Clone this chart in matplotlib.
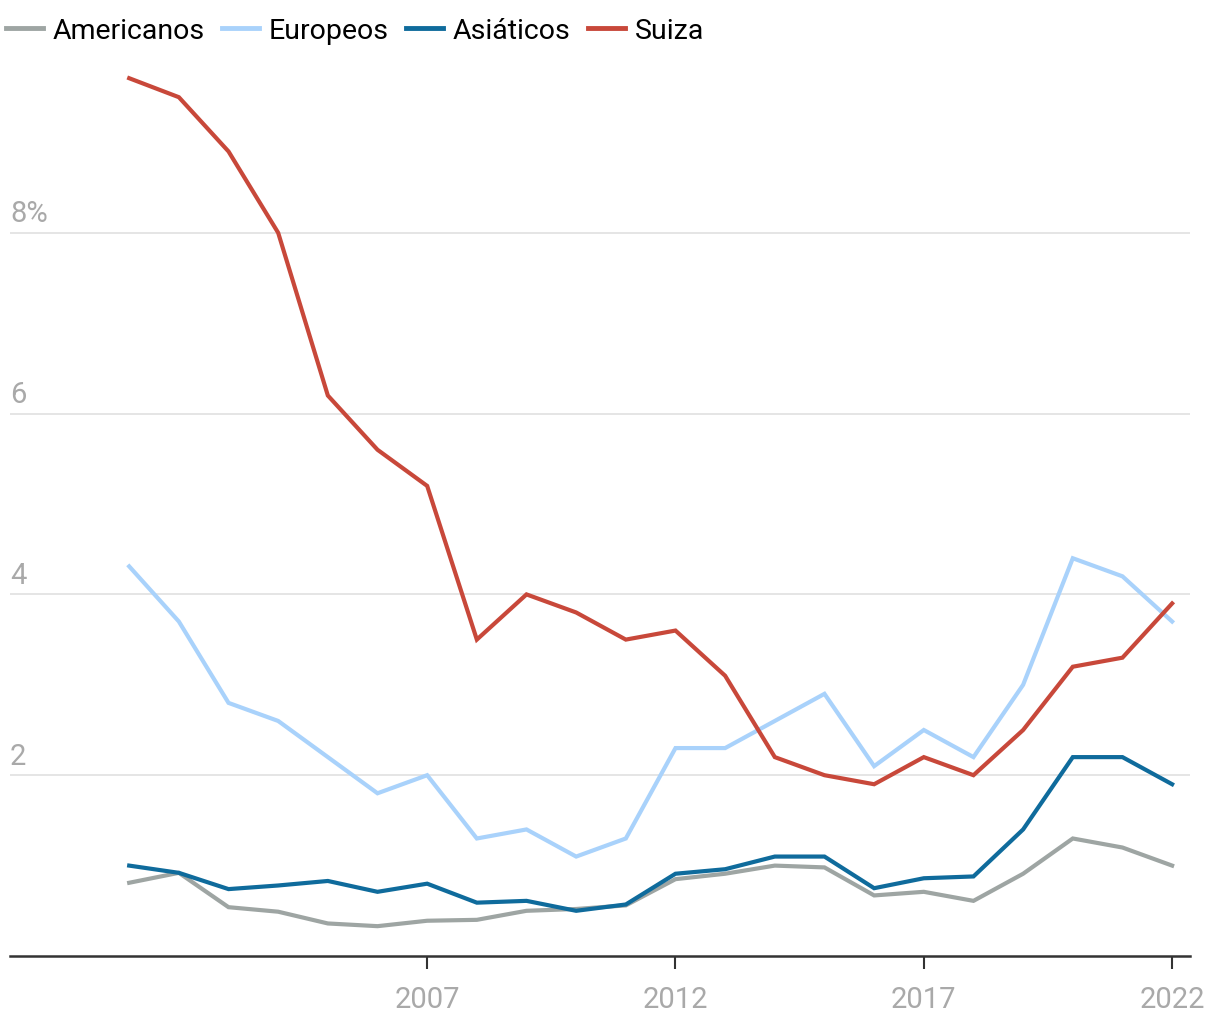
import matplotlib
matplotlib.use("Agg")
import matplotlib.pyplot as plt
from matplotlib.lines import Line2D

plt.rcParams['font.family'] = ['Roboto', 'DejaVu Sans']

years = list(range(2001, 2023))
americanos = [0.81, 0.92, 0.54, 0.49, 0.36, 0.33, 0.39, 0.40, 0.50, 0.52, 0.56, 0.85, 0.91, 1.00, 0.98, 0.67, 0.71, 0.61, 0.91, 1.30, 1.20, 1.00]
europeos = [4.31, 3.70, 2.80, 2.60, 2.20, 1.80, 2.00, 1.30, 1.40, 1.10, 1.30, 2.30, 2.30, 2.60, 2.90, 2.10, 2.50, 2.20, 3.00, 4.40, 4.20, 3.70]
asiaticos = [1.00, 0.92, 0.74, 0.78, 0.83, 0.71, 0.80, 0.59, 0.61, 0.50, 0.57, 0.91, 0.96, 1.10, 1.10, 0.75, 0.86, 0.88, 1.40, 2.20, 2.20, 1.90]
suiza = [9.71, 9.50, 8.90, 8.00, 6.20, 5.60, 5.20, 3.50, 4.00, 3.80, 3.50, 3.60, 3.10, 2.20, 2.00, 1.90, 2.20, 2.00, 2.50, 3.20, 3.30, 3.90]

series = [("Americanos", americanos, "#9ea5a3"),
          ("Europeos", europeos, "#a9d2fb"),
          ("Asiáticos", asiaticos, "#0f6b9c"),
          ("Suiza", suiza, "#c8483a")]

yticks = [2, 4, 6, 8]
ytick_labels = ["2", "4", "6", "8%"]
xticks = [2007, 2012, 2017, 2022]

fig = plt.figure(figsize=(12.2, 10.2), dpi=100)
ax = fig.add_axes([10/1220, 1-957/1020, 1180/1220, (957-53)/1020])

for name, vals, col in series:
    ax.plot(years, vals, color=col, lw=3, solid_joinstyle='miter', label=name, zorder=3)

ax.set_xlim(1998.6, 2022.36)
ax.set_ylim(0, 10)

for y in yticks:
    ax.axhline(y, color="#e3e3e3", lw=1.3, zorder=1)
ax.set_yticks([])
for y, lab in zip(yticks, ytick_labels):
    ax.text(0.0, y + 0.06, lab, transform=ax.get_yaxis_transform(), ha='left', va='bottom',
            fontsize=21, color="#a9a9a9")

ax.set_xticks(xticks)
ax.set_xticklabels([str(x) for x in xticks], fontsize=21, color="#a9a9a9")
ax.tick_params(axis='x', length=9, width=1.5, color="#333333", pad=12)

for s in ['top', 'right', 'left']:
    ax.spines[s].set_visible(False)
ax.spines['bottom'].set_color("#333333")
ax.spines['bottom'].set_linewidth(1.8)

handles = [Line2D([0], [0], color=c, lw=3.5) for _, _, c in series]
fig.legend(handles, [n for n, _, _ in series], loc='upper left', bbox_to_anchor=(0.0, 0.988),
           ncol=4, frameon=False, fontsize=20.5, handlelength=1.3, handletextpad=0.35,
           columnspacing=0.6, borderaxespad=0, borderpad=0.2)

fig.savefig("out.png", dpi=100)
